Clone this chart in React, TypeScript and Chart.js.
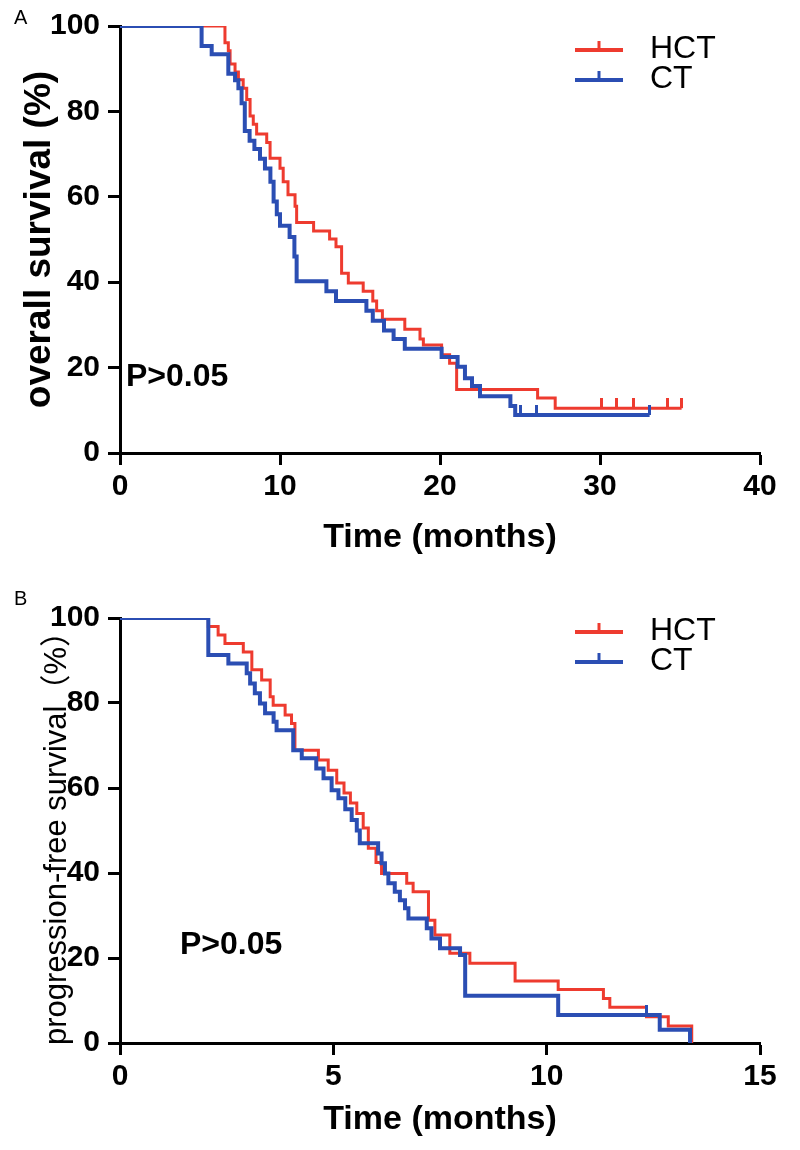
import React, { useEffect, useRef } from "react";
import { Chart, registerables } from "chart.js";

Chart.register(...registerables);

const FAMILY = "'Liberation Sans', Arial, 'Noto Sans CJK SC', sans-serif";

const seriesNames = ["HCT", "CT"];
const seriesColors = ["#ee3b2f", "#2b4eb3"];

// ---------- Panel A: overall survival ----------
const osXTicks = [0, 10, 20, 30, 40];
const osYTicks = [0, 20, 40, 60, 80, 100];
const osHctTime = [0, 6.56, 6.77, 6.88, 7.19, 7.4, 7.7, 7.92, 8.13, 8.33, 8.54, 9.17, 9.38, 10.0, 10.2, 10.5, 10.94, 11.04, 12.1, 13.1, 13.5, 13.85, 14.27, 15.2, 15.8, 16.04, 16.4, 17.8, 18.75, 18.96, 20.1, 20.6, 21.04, 26.1, 27.2, 35.1];
const osHctSurv = [100, 96.1, 94.2, 91.1, 89.2, 87.4, 85.4, 82.8, 78.9, 77.0, 74.7, 72.7, 69.0, 66.7, 63.5, 60.5, 57.8, 54.0, 52.0, 50.1, 48.3, 42.1, 39.8, 37.9, 35.6, 33.3, 31.3, 29.0, 26.7, 25.3, 23.0, 21.0, 14.9, 12.9, 10.5, 10.5];
const osHctCensor = [30.1, 31.0, 32.1, 34.2, 35.1];
const osCtTime = [0, 5.1, 5.73, 6.77, 7.19, 7.4, 7.6, 7.8, 8.1, 8.4, 8.75, 9.06, 9.4, 9.6, 9.8, 10.0, 10.6, 10.9, 11.04, 12.9, 13.5, 15.4, 15.8, 16.5, 17.1, 17.8, 20.1, 21.1, 21.56, 22.0, 22.5, 24.4, 24.7, 33.1];
const osCtSurv = [100, 95.3, 93.4, 88.8, 87.3, 85.4, 81.9, 75.4, 73.1, 71.2, 68.9, 66.6, 63.5, 58.9, 55.9, 53.2, 50.6, 46.0, 40.2, 37.9, 35.6, 33.3, 31.0, 28.7, 26.7, 24.4, 22.5, 20.2, 17.5, 15.7, 13.3, 11.0, 8.9, 8.9];
const osCtCensor = [25.0, 26.0, 33.1];

// ---------- Panel B: progression-free survival ----------
const pfsXTicks = [0, 5, 10, 15];
const pfsYTicks = [0, 20, 40, 60, 80, 100];
const pfsHctTime = [0, 2.07, 2.3, 2.46, 2.89, 3.09, 3.32, 3.52, 3.59, 3.87, 4.02, 4.1, 4.65, 4.88, 5.08, 5.25, 5.4, 5.55, 5.7, 5.82, 6.0, 6.13, 6.72, 6.87, 7.23, 7.38, 7.73, 8.2, 9.26, 10.27, 11.33, 11.48, 12.34, 12.85, 13.4];
const pfsHctSurv = [100, 98.0, 96.0, 94.0, 92.0, 87.8, 85.4, 81.5, 79.5, 77.2, 75.2, 68.9, 66.6, 64.2, 61.2, 58.8, 56.5, 54.0, 50.6, 45.8, 42.5, 39.9, 37.6, 35.6, 28.9, 25.4, 21.1, 18.75, 14.6, 12.6, 10.5, 8.4, 6.2, 4.0, 0];
const pfsHctCensor: number[] = [];
const pfsCtTime = [0, 2.07, 2.54, 2.97, 3.05, 3.16, 3.28, 3.4, 3.6, 3.67, 4.06, 4.26, 4.6, 4.77, 4.96, 5.12, 5.28, 5.43, 5.55, 5.62, 6.05, 6.13, 6.21, 6.29, 6.44, 6.56, 6.68, 6.76, 7.19, 7.3, 7.5, 7.97, 8.09, 10.27, 12.65, 13.36];
const pfsCtSurv = [100, 91.3, 89.3, 87.0, 84.6, 82.3, 79.9, 77.6, 75.6, 73.6, 68.9, 67.0, 64.6, 62.3, 59.5, 57.6, 55.0, 52.5, 50.0, 47.0, 44.6, 42.3, 39.9, 37.6, 35.6, 33.6, 31.7, 29.3, 27.0, 24.6, 22.3, 20.7, 11.1, 6.6, 3.1, 0];
const pfsCtCensor = [12.34];

const pText = "P>0.05";

function survAt(times: number[], surv: number[], t: number) {
  let v = surv[0];
  for (let i = 0; i < times.length; i++) {
    if (times[i] <= t + 1e-9) v = surv[i];
  }
  return v;
}

function makeTickImage(color: string) {
  const c = document.createElement("canvas");
  c.width = 3;
  c.height = 20;
  const g = c.getContext("2d")!;
  g.fillStyle = color;
  g.fillRect(0, 0, 3, 10);
  return c;
}

const annotPlugin = {
  id: "annot",
  afterDraw(chart: any, _args: any, o: any) {
    const ctx = chart.ctx;
    ctx.save();
    ctx.fillStyle = "#000";
    ctx.textAlign = "left";
    ctx.textBaseline = "middle";
    ctx.font = `20px ${FAMILY}`;
    ctx.fillText(o.letter, o.letterX, o.letterY);
    ctx.font = `bold 32px ${FAMILY}`;
    ctx.fillText(pText, o.pX, o.pY);
    // legend
    seriesNames.forEach((name, i) => {
      const y = o.legY + i * o.legGap;
      const x0 = o.legX;
      ctx.strokeStyle = seriesColors[i];
      ctx.lineWidth = 4;
      ctx.beginPath();
      ctx.moveTo(x0, y);
      ctx.lineTo(x0 + 48, y);
      ctx.stroke();
      ctx.lineWidth = 3;
      ctx.beginPath();
      ctx.moveTo(x0 + 24, y);
      ctx.lineTo(x0 + 24, y - 9);
      ctx.stroke();
      ctx.fillStyle = "#000";
      ctx.font = `32px ${FAMILY}`;
      ctx.fillText(name, x0 + 75, y - 1);
    });
    ctx.restore();
  },
};

type PanelCfg = {
  hctT: number[]; hctS: number[]; hctC: number[];
  ctT: number[]; ctS: number[]; ctC: number[];
  xTicks: number[]; yTicks: number[];
  xTitle: string; yTitle: string;
  yTitleFont: any; yTitlePad: number;
  xTitlePad: number;
  top: number; xAxisHeight: number;
  annot: any;
};

function buildConfig(p: PanelCfg): any {
  const pts = (t: number[], s: number[]) => t.map((x, i) => ({ x, y: s[i] }));
  const cens = (c: number[], t: number[], s: number[]) => c.map((x) => ({ x, y: survAt(t, s, x) }));
  const tickFont = { family: FAMILY, size: 30, weight: "bold" };
  const gridCfg = { display: true, drawOnChartArea: false, drawTicks: true, tickLength: 12, tickWidth: 3, tickColor: "#000" };
  return {
    type: "line",
    data: {
      datasets: [
        { label: seriesNames[1], data: pts(p.ctT, p.ctS), borderColor: seriesColors[1], borderWidth: 4, stepped: "before", pointRadius: 0, fill: false, order: 0, borderJoinStyle: "miter" },
        { label: seriesNames[0], data: pts(p.hctT, p.hctS), borderColor: seriesColors[0], borderWidth: 3, stepped: "before", pointRadius: 0, fill: false, order: 1, borderJoinStyle: "miter" },
        { label: seriesNames[1] + " censored", data: cens(p.ctC, p.ctT, p.ctS), showLine: false, pointStyle: makeTickImage(seriesColors[1]), pointRadius: 4, order: 0 },
        { label: seriesNames[0] + " censored", data: cens(p.hctC, p.hctT, p.hctS), showLine: false, pointStyle: makeTickImage(seriesColors[0]), pointRadius: 4, order: 1 },
      ],
    },
    options: {
      responsive: false,
      animation: false,
      events: [],
      layout: { padding: { left: 0, right: 40, top: p.top, bottom: 0 } },
      plugins: { legend: { display: false }, tooltip: { enabled: false }, annot: p.annot },
      scales: {
        x: {
          type: "linear",
          min: p.xTicks[0],
          max: p.xTicks[p.xTicks.length - 1],
          afterBuildTicks: (s: any) => { s.ticks = p.xTicks.map((v) => ({ value: v })); },
          afterFit: (s: any) => { s.height = p.xAxisHeight; },
          ticks: { font: tickFont, color: "#000", padding: 4, maxRotation: 0, autoSkip: false },
          grid: gridCfg,
          border: { display: true, color: "#000", width: 3 },
          title: { display: true, text: p.xTitle, color: "#000", font: { family: FAMILY, size: 34, weight: "bold" }, padding: { top: 0, bottom: p.xTitlePad } },
        },
        y: {
          type: "linear",
          min: p.yTicks[0],
          max: p.yTicks[p.yTicks.length - 1],
          afterBuildTicks: (s: any) => { s.ticks = p.yTicks.map((v) => ({ value: v })); },
          afterFit: (s: any) => { s.width = 120; },
          ticks: { font: tickFont, color: "#000", padding: 8, autoSkip: false },
          grid: gridCfg,
          border: { display: true, color: "#000", width: 3 },
          title: { display: true, text: p.yTitle, color: "#000", font: p.yTitleFont, padding: { top: p.yTitlePad, bottom: 0 } },
        },
      },
    },
    plugins: [annotPlugin],
  };
}

const panelA: PanelCfg = {
  hctT: osHctTime, hctS: osHctSurv, hctC: osHctCensor,
  ctT: osCtTime, ctS: osCtSurv, ctC: osCtCensor,
  xTicks: osXTicks, yTicks: osYTicks,
  xTitle: "Time (months)", yTitle: "overall survival (%)",
  yTitleFont: { family: FAMILY, size: 37, weight: "bold" }, yTitlePad: 18,
  xTitlePad: 17,
  top: 18, xAxisHeight: 122,
  annot: { letter: "A", letterX: 14, letterY: 18, pX: 126, pY: 377, legX: 575, legY: 50, legGap: 30 },
};

const panelB: PanelCfg = {
  hctT: pfsHctTime, hctS: pfsHctSurv, hctC: pfsHctCensor,
  ctT: pfsCtTime, ctS: pfsCtSurv, ctC: pfsCtCensor,
  xTicks: pfsXTicks, yTicks: pfsYTicks,
  xTitle: "Time (months)", yTitle: "progression-free survival（%）",
  yTitleFont: { family: FAMILY, size: 31, weight: "normal" }, yTitlePad: 39,
  xTitlePad: 10,
  top: 43, xAxisHeight: 107,
  annot: { letter: "B", letterX: 14, letterY: 24, pX: 180, pY: 370, legX: 575, legY: 57, legGap: 30 },
};

function Panel({ cfg }: { cfg: PanelCfg }) {
  const ref = useRef<HTMLCanvasElement>(null);
  useEffect(() => {
    const chart = new Chart(ref.current!, buildConfig(cfg));
    return () => chart.destroy();
  }, [cfg]);
  return <canvas ref={ref} width={800} height={575} style={{ display: "block", width: 800, height: 575 }} />;
}

export default function App() {
  return (
    <div style={{ position: "absolute", left: 0, top: 0, width: 800, height: 1150, background: "#fff" }}>
      <Panel cfg={panelA} />
      <Panel cfg={panelB} />
    </div>
  );
}
